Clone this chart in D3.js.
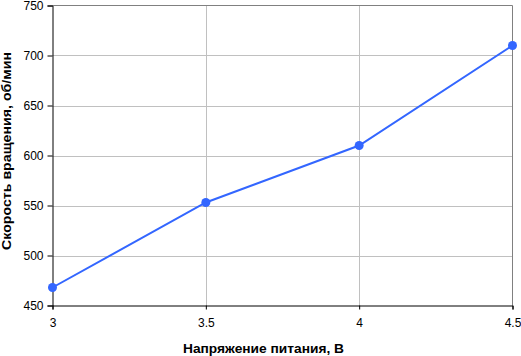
<!DOCTYPE html>
<html><head><meta charset="utf-8">
<script src="https://cdn.jsdelivr.net/npm/d3@7"></script>
<style>
body{margin:0;background:#fff;}
text{font-family:"Liberation Sans",Arial,sans-serif;}
</style></head><body>
<svg id="c" width="521" height="356"></svg>
<script>
const voltages = [3, 3.5, 4, 4.5];
const rpm = [468, 553, 610, 710];
const xTicks = [3, 3.5, 4, 4.5];
const yTicks = [450, 500, 550, 600, 650, 700, 750];
const xTitle = "Напряжение питания, В";
const yTitle = "Скорость вращения, об/мин";

const svg = d3.select("#c");
const L = 52.5, R = 512.5, T = 5.5, B = 305.5;
const x = d3.scaleLinear().domain([3, 4.5]).range([L, R]);
const y = d3.scaleLinear().domain([450, 750]).range([B, T]);

// gridlines
svg.append("g").selectAll("line").data(yTicks.slice(1, -1)).join("line")
  .attr("x1", L).attr("x2", R).attr("y1", d => Math.round(y(d)) + 0.5).attr("y2", d => Math.round(y(d)) + 0.5)
  .attr("stroke", "#c0c0c0");
svg.append("g").selectAll("line").data(xTicks.slice(1, -1)).join("line")
  .attr("y1", T).attr("y2", B).attr("x1", d => Math.round(x(d)) + 0.5).attr("x2", d => Math.round(x(d)) + 0.5)
  .attr("stroke", "#c0c0c0");
// top/right border
svg.append("path").attr("d", `M${L},${T}H${R}V${B}`).attr("fill", "none").attr("stroke", "#808080");

// axes
const yAxis = d3.axisLeft(y).tickValues(yTicks).tickSize(5).tickPadding(4).tickFormat(d3.format("d"));
const gy = svg.append("g").attr("transform", `translate(${L},0)`).call(yAxis);
const xAxis = d3.axisBottom(x).tickValues(xTicks).tickSize(4).tickPadding(9).tickFormat(d => String(d));
const gx = svg.append("g").attr("transform", `translate(0,${B})`).call(xAxis);
[gy, gx].forEach(g => {
  g.select(".domain").attr("stroke", "#000");
  g.selectAll(".tick line").attr("stroke", "#000");
  g.selectAll("text").attr("fill", "#000").style("font-size", "12px").style("font-family", "'Liberation Sans',Arial,sans-serif");
});

// line
const pts = voltages.map((v, i) => [v, rpm[i]]);
svg.append("path").datum(pts)
  .attr("d", d3.line().x(d => x(d[0])).y(d => y(d[1])))
  .attr("fill", "none").attr("stroke", "#3366ff").attr("stroke-width", 2);
svg.append("g").selectAll("circle").data(pts).join("circle")
  .attr("cx", d => x(d[0])).attr("cy", d => y(d[1])).attr("r", 4.5).attr("fill", "#3366ff");

// titles
svg.append("text").attr("x", 263.5).attr("y", 353).attr("text-anchor", "middle")
  .attr("textLength", 161).attr("lengthAdjust", "spacingAndGlyphs")
  .style("font-size", "13px").style("font-weight", "bold").text(xTitle);
svg.append("text").attr("transform", "translate(10.5,151) rotate(-90)").attr("text-anchor", "middle")
  .attr("textLength", 198).attr("lengthAdjust", "spacingAndGlyphs")
  .style("font-size", "13px").style("font-weight", "bold").text(yTitle);
</script>
</body></html>
